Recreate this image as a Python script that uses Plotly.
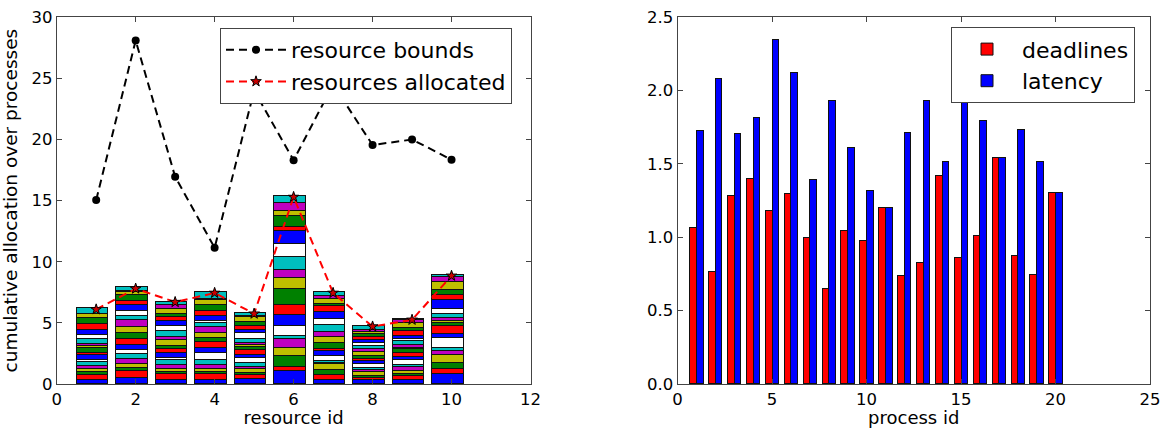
import plotly.graph_objects as go

# ---------------- data: left panel ----------------
resource_ids = [1, 2, 3, 4, 5, 6, 7, 8, 9, 10]

# per-resource allocation of each of the 20 processes (stacked bottom-up)
alloc_r1 = [0.29, 0.42, 0.27, 0.22, 0.27, 0.33, 0.16, 0.38, 0.18, 0.38, 0.20, 0.14, 0.45, 0.29, 0.43, 0.46, 0.49, 0.33, 0.05, 0.43]
alloc_r2 = [0.49, 0.52, 0.24, 0.33, 0.41, 0.41, 0.38, 0.41, 0.49, 0.46, 0.49, 0.60, 0.30, 0.38, 0.54, 0.35, 0.46, 0.24, 0.11, 0.27]
alloc_r3 = [0.33, 0.46, 0.19, 0.24, 0.30, 0.43, 0.19, 0.38, 0.35, 0.24, 0.49, 0.24, 0.46, 0.43, 0.43, 0.27, 0.24, 0.46, 0.30, 0.27]
alloc_r4 = [0.27, 0.54, 0.16, 0.24, 0.35, 0.38, 0.57, 0.41, 0.46, 0.33, 0.43, 0.46, 0.33, 0.16, 0.41, 0.41, 0.52, 0.38, 0.11, 0.60]
alloc_r5 = [0.35, 0.33, 0.22, 0.27, 0.22, 0.33, 0.38, 0.27, 0.38, 0.22, 0.22, 0.16, 0.33, 0.43, 0.27, 0.33, 0.33, 0.38, 0.08, 0.30]
alloc_r6 = [1.03, 0.37, 0.90, 0.63, 0.73, 0.22, 0.86, 0.90, 0.81, 1.28, 0.95, 0.59, 1.08, 1.12, 1.00, 0.36, 0.92, 0.35, 0.68, 0.54]
alloc_r7 = [0.33, 0.41, 0.38, 0.46, 0.14, 0.11, 0.46, 0.35, 0.16, 0.52, 0.49, 0.46, 0.54, 0.49, 0.54, 0.54, 0.11, 0.41, 0.30, 0.33]
alloc_r8 = [0.27, 0.22, 0.16, 0.27, 0.24, 0.16, 0.27, 0.24, 0.22, 0.24, 0.33, 0.19, 0.27, 0.22, 0.24, 0.27, 0.22, 0.16, 0.22, 0.27]
alloc_r9 = [0.33, 0.33, 0.14, 0.27, 0.30, 0.19, 0.41, 0.22, 0.35, 0.27, 0.11, 0.22, 0.33, 0.22, 0.19, 0.41, 0.27, 0.43, 0.22, 0.11]
alloc_r10 = [0.82, 0.41, 0.46, 0.68, 0.30, 0.27, 0.82, 0.33, 0.63, 0.24, 0.14, 0.27, 0.35, 0.41, 0.73, 0.41, 0.43, 0.60, 0.41, 0.19]

resource_bounds = [15.05, 28.1, 16.95, 11.15, 24.0, 18.3, 24.5, 19.55, 20.0, 18.35]
resources_allocated = [6.1, 7.8, 6.7, 7.45, 5.75, 15.3, 7.45, 4.7, 5.25, 8.85]

# ---------------- data: right panel ----------------
process_ids = list(range(1, 21))
deadlines = [1.06, 0.76, 1.28, 1.395, 1.18, 1.29, 0.99, 0.645, 1.04, 0.97,
             1.195, 0.735, 0.825, 1.415, 0.86, 1.01, 1.537, 0.87, 0.74, 1.302]
latency = [1.725, 2.078, 1.703, 1.81, 2.345, 2.117, 1.389, 1.93, 1.609, 1.313,
           1.195, 1.708, 1.93, 1.514, 1.98, 1.794, 1.537, 1.73, 1.514, 1.302]

# ---------------- styling ----------------
FONT = "DejaVu Sans"
cycle = ["#0000FF", "#FF0000", "#008000", "#BFBF00", "#BF00BF", "#00BFBF", "#FFFFFF"]
EDGE = "#111111"
SPINE = "#444444"

allocs = [alloc_r1, alloc_r2, alloc_r3, alloc_r4, alloc_r5,
          alloc_r6, alloc_r7, alloc_r8, alloc_r9, alloc_r10]

fig = go.Figure()

bar_x = [r - 0.1 for r in resource_ids]
for p in range(20):
    fig.add_trace(go.Bar(
        x=bar_x, y=[a[p] for a in allocs], width=0.8,
        marker=dict(color=cycle[p % len(cycle)], line=dict(color=EDGE, width=1)),
        showlegend=False, xaxis="x", yaxis="y", hoverinfo="skip"))

fig.add_trace(go.Scatter(
    x=resource_ids, y=resource_bounds, mode="lines+markers", name="resource bounds",
    line=dict(color="black", width=2, dash="8px,5px"),
    marker=dict(symbol="circle", size=8, color="black"),
    xaxis="x", yaxis="y", legend="legend"))
fig.add_trace(go.Scatter(
    x=resource_ids, y=resources_allocated, mode="lines+markers", name="resources allocated",
    line=dict(color="red", width=2, dash="8px,5px"),
    marker=dict(symbol="star", size=8, color="#cc0000", line=dict(color="black", width=1)),
    xaxis="x", yaxis="y", legend="legend"))

fig.add_trace(go.Bar(
    x=[p - 0.175 for p in process_ids], y=deadlines, width=0.35, name="deadlines",
    marker=dict(color="#FF0000", line=dict(color=EDGE, width=1)),
    xaxis="x2", yaxis="y2", legend="legend2"))
fig.add_trace(go.Bar(
    x=[p + 0.175 for p in process_ids], y=latency, width=0.35, name="latency",
    marker=dict(color="#0000FF", line=dict(color=EDGE, width=1)),
    xaxis="x2", yaxis="y2", legend="legend2"))

W, H = 1166, 428
axis_common = dict(showgrid=False, zeroline=False, showline=True, linecolor=SPINE, linewidth=1,
                   mirror="ticks", ticks="inside", ticklen=5, tickcolor=SPINE, automargin=False,
                   tickfont=dict(family=FONT, size=16.5, color="black"))

ydom = [(H - 384) / H, (H - 17.3) / H]

fig.update_layout(
    width=W, height=H, margin=dict(l=0, r=0, t=0, b=0, autoexpand=False),
    paper_bgcolor="white", plot_bgcolor="white", barmode="stack", bargap=0,
    font=dict(family=FONT, color="black"),
    xaxis=dict(domain=[56.7 / W, 530.5 / W], range=[0, 12], tickvals=[0, 2, 4, 6, 8, 10, 12],
               title=dict(text="resource id", font=dict(size=18), standoff=5), anchor="y",
               **axis_common),
    yaxis=dict(domain=ydom, range=[0, 30], tickvals=[0, 5, 10, 15, 20, 25, 30],
               title=dict(text="cumulative allocation over processes", font=dict(size=18.5), standoff=8),
               anchor="x", **axis_common),
    xaxis2=dict(domain=[677.5 / W, 1150 / W], range=[0, 25], tickvals=[0, 5, 10, 15, 20, 25],
                title=dict(text="process id", font=dict(size=18), standoff=5), anchor="y2",
                **axis_common),
    yaxis2=dict(domain=ydom, range=[0, 2.5], tickvals=[0, 0.5, 1.0, 1.5, 2.0, 2.5], tickformat=".1f",
                anchor="x2", **axis_common),
    legend=dict(x=220 / W, y=1 - 28 / H, xanchor="left", yanchor="top", traceorder="normal",
                bgcolor="white", bordercolor=SPINE, borderwidth=1,
                font=dict(family=FONT, size=22), itemwidth=60, tracegroupgap=0),
    legend2=dict(x=951 / W, y=1 - 27.3 / H, xanchor="left", yanchor="top", traceorder="normal",
                 bgcolor="white", bordercolor=SPINE, borderwidth=1,
                 font=dict(family=FONT, size=22), itemwidth=60, tracegroupgap=0),
)

fig.write_html("out.html")
